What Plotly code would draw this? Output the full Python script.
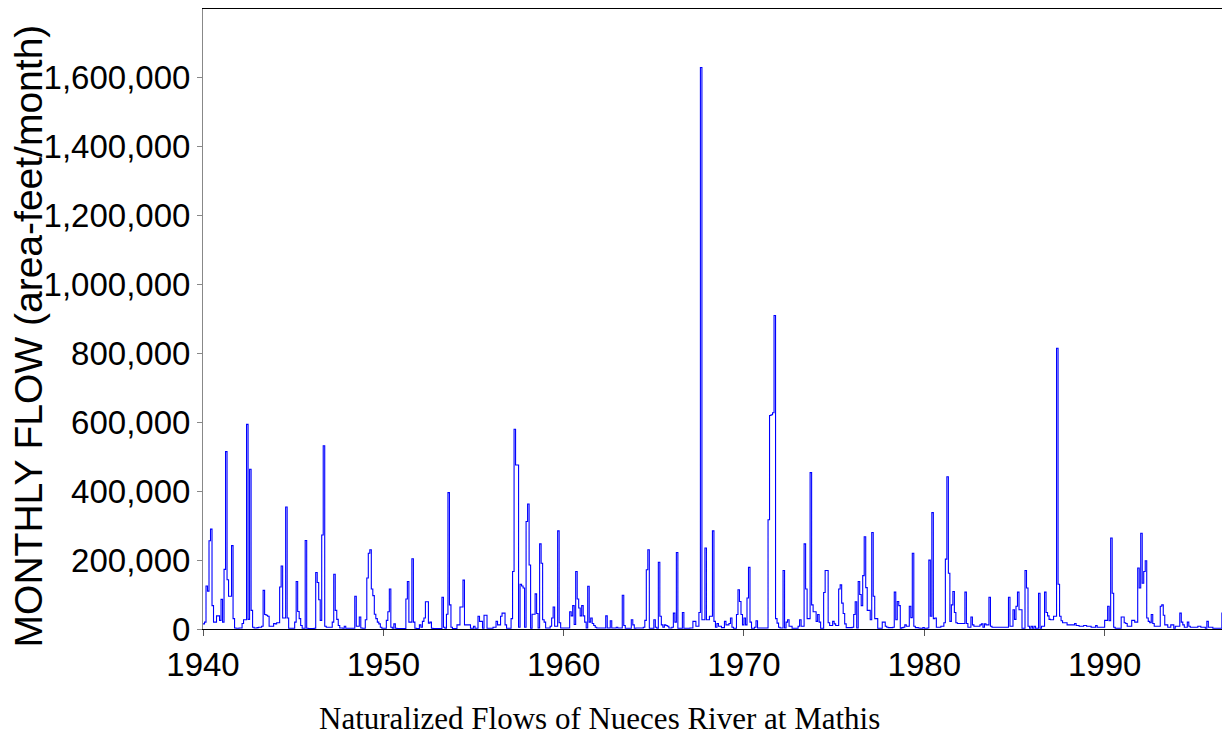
import plotly.graph_objects as go

# Monthly naturalized flows, thousands of acre-feet, one list per decade (Jan..Dec per year)
flow_1940s = [
    15, 20, 125, 110, 256, 290, 68, 20, 20, 38, 38, 25,
    86, 20, 173, 515, 143, 95, 95, 242, 30, 3, 2, 2,
    3, 3, 16, 27, 27, 594, 28, 464, 54, 5, 3, 3,
    4, 5, 5, 8, 112, 42, 40, 37, 8, 8, 8, 16,
    15, 18, 18, 122, 183, 32, 32, 354, 32, 2, 2, 2,
    2, 20, 138, 51, 30, 10, 2, 2, 257, 2, 1, 1,
    1, 1, 2, 164, 135, 85, 25, 273, 532, 8, 5, 5,
    5, 5, 20, 159, 54, 28, 10, 3, 3, 2, 8, 2,
    2, 2, 2, 2, 2, 95, 8, 8, 35, 3, 2, 2,
    27, 148, 220, 230, 116, 97, 43, 30, 20, 15, 5, 2,
]
flow_1950s = [
    2, 2, 25, 50, 116, 5, 2, 15, 2, 1, 1, 1,
    1, 1, 1, 87, 138, 20, 20, 204, 20, 2, 1, 1,
    12, 5, 22, 32, 79, 79, 17, 20, 2, 1, 1, 1,
    1, 1, 1, 92, 5, 2, 43, 396, 70, 5, 1, 1,
    1, 12, 12, 64, 64, 142, 12, 12, 12, 12, 2, 2,
    8, 2, 2, 37, 22, 22, 2, 40, 40, 2, 2, 2,
    2, 5, 5, 22, 12, 12, 37, 46, 46, 12, 2, 2,
    2, 30, 167, 580, 476, 476, 5, 130, 125, 119, 5, 312,
    363, 186, 2, 43, 43, 102, 45, 3, 247, 191, 27, 20,
    3, 3, 3, 8, 32, 64, 8, 8, 285, 18, 3, 3,
]
flow_1960s = [
    3, 3, 3, 3, 50, 38, 68, 13, 167, 87, 61, 38,
    68, 38, 20, 3, 124, 20, 32, 16, 10, 5, 3, 3,
    3, 3, 3, 3, 38, 3, 3, 24, 3, 3, 3, 5,
    3, 3, 3, 98, 10, 2, 2, 2, 2, 27, 12, 2,
    3, 3, 3, 3, 3, 5, 25, 172, 230, 2, 2, 2,
    27, 5, 2, 194, 37, 12, 5, 12, 10, 8, 3, 3,
    5, 46, 20, 222, 2, 2, 2, 48, 2, 2, 2, 2,
    3, 3, 22, 22, 8, 8, 48, 1630, 27, 27, 235, 27,
    27, 37, 37, 285, 22, 5, 16, 8, 8, 4, 4, 22,
    12, 12, 16, 32, 5, 2, 2, 42, 114, 80, 42, 12,
]
flow_1970s = [
    32, 12, 90, 179, 20, 2, 2, 5, 24, 3, 3, 3,
    3, 3, 3, 3, 317, 620, 622, 628, 910, 30, 17, 5,
    3, 3, 170, 3, 20, 27, 8, 8, 2, 2, 2, 2,
    8, 27, 8, 8, 247, 116, 30, 30, 454, 70, 50, 50,
    22, 42, 20, 2, 2, 106, 170, 170, 18, 10, 10, 22,
    15, 10, 10, 116, 128, 75, 45, 15, 4, 4, 4, 4,
    5, 42, 79, 3, 138, 100, 68, 155, 268, 120, 54, 54,
    27, 280, 95, 30, 30, 2, 2, 2, 20, 20, 8, 5,
    4, 4, 4, 5, 107, 27, 80, 68, 2, 4, 5, 12,
    8, 8, 66, 33, 220, 8, 4, 4, 3, 2, 2, 4,
]
flow_1980s = [
    2, 2, 3, 200, 37, 338, 30, 32, 5, 5, 5, 8,
    8, 18, 203, 442, 162, 22, 70, 109, 48, 18, 16, 16,
    16, 16, 16, 107, 16, 5, 5, 35, 12, 8, 8, 8,
    8, 12, 15, 5, 15, 12, 12, 92, 8, 5, 5, 5,
    5, 5, 5, 5, 5, 5, 5, 5, 92, 8, 8, 56,
    28, 66, 107, 56, 56, 2, 2, 170, 119, 8, 2, 8,
    2, 8, 2, 2, 104, 2, 8, 8, 107, 48, 38, 28,
    27, 27, 37, 37, 815, 130, 37, 24, 18, 18, 18, 12,
    12, 12, 12, 12, 16, 10, 10, 8, 8, 8, 10, 10,
    8, 8, 8, 5, 5, 5, 10, 5, 5, 5, 5, 5,
]
flow_1990s = [
    25, 25, 66, 24, 264, 104, 5, 2, 2, 2, 2, 35,
    35, 18, 16, 8, 8, 8, 25, 25, 20, 20, 177, 119,
    278, 133, 167, 198, 32, 22, 18, 42, 16, 8, 8, 8,
    8, 66, 70, 40, 12, 12, 5, 5, 12, 12, 2, 8,
    8, 8, 46, 20, 12, 5, 5, 20, 8, 5, 5, 5,
    5, 5, 8, 8, 5, 5, 5, 2, 22, 5, 5, 5,
    2, 2, 2, 2, 2, 2, 46, 22, 35, 35, 10, 10,
]

start_year = 1940
y_tick_values = [0, 200000, 400000, 600000, 800000, 1000000, 1200000, 1400000, 1600000]
x_tick_values = [1940, 1950, 1960, 1970, 1980, 1990]
x_tick_labels = ["1940", "1950", "1960", "1970", "1980", "1990"]

monthly = flow_1940s + flow_1950s + flow_1960s + flow_1970s + flow_1980s + flow_1990s
flows = [v * 1000 for v in monthly] + [monthly[-1] * 1000]
times = [start_year + k / 12 for k in range(len(monthly) + 1)]

fig = go.Figure()
fig.add_trace(go.Scatter(
    x=times, y=flows, mode="lines", line_shape="hv",
    line=dict(color="#0000ff", width=1.1),
    hoverinfo="x+y", showlegend=False,
))

tick_font = dict(family="Liberation Sans, Arial, sans-serif", size=33, color="#000000")

# The page body has an 8px default margin, so the figure is 8px smaller than the window.
fig.update_layout(
    width=1222, height=732,
    margin=dict(l=195, r=2, t=1, b=111),
    paper_bgcolor="white", plot_bgcolor="white",
    xaxis=dict(
        range=[1940, 1996.84], tickvals=x_tick_values, ticktext=x_tick_labels,
        showgrid=False, zeroline=False, showline=True, linecolor="#000000", linewidth=1,
        mirror=True, ticks="outside", ticklen=6, tickcolor="#555555", tickwidth=1,
        tickfont=tick_font, automargin=False,
    ),
    yaxis=dict(
        range=[0, 1800000], tickvals=y_tick_values, tickformat=",d",
        showgrid=False, zeroline=False, showline=True, linecolor="#888888", linewidth=1,
        ticks="outside", ticklen=5, tickcolor="#888888", tickwidth=1,
        tickfont=tick_font, automargin=False,
    ),
    annotations=[
        dict(text="MONTHLY FLOW (area-feet/month)", textangle=-90,
             xref="paper", yref="paper", x=-0.1707, y=0.472,
             xanchor="center", yanchor="middle", showarrow=False,
             font=dict(family="Liberation Sans, Arial, sans-serif", size=39, color="#000000")),
        dict(text="Naturalized Flows of Nueces River at Mathis",
             xref="paper", yref="paper", x=0.387, y=-0.145,
             xanchor="center", yanchor="middle", showarrow=False,
             font=dict(family="Liberation Serif, Times New Roman, serif", size=31, color="#000000")),
    ],
    shapes=[
        dict(type="line", xref="paper", yref="paper", x0=1, x1=1, y0=0, y1=1,
             line=dict(color="#000000", width=1)),
    ],
)

fig.write_html("out.html")
